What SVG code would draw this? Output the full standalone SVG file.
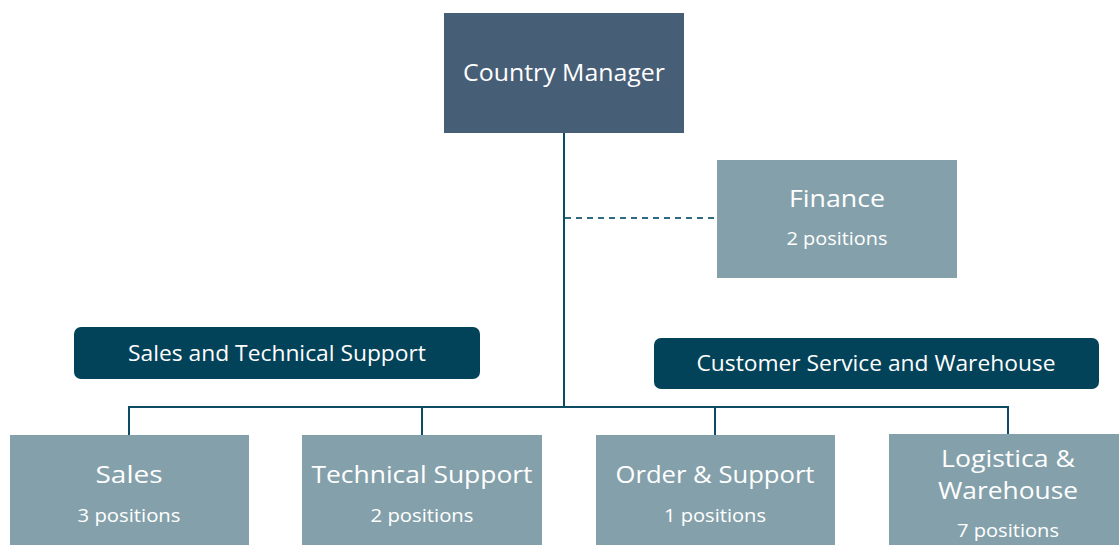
<svg xmlns="http://www.w3.org/2000/svg" width="1119" height="545" viewBox="0 0 1119 545">
<style>
text{font-family:"Open Sans","Liberation Sans",sans-serif;fill:#ffffff;text-anchor:middle}
.top{fill:#475e77}
.box{fill:#84a1ab}
.pill{fill:#02435a}
.t{font-size:24px}
.s{font-size:19px}
.p{font-size:21px}
.ln{stroke:#0d4a64;stroke-width:2;fill:none}
.dash{stroke:#2f6a84;stroke-width:2;stroke-dasharray:6 5;fill:none}
</style>
<rect width="1119" height="545" fill="#ffffff"/>
<g id="connectors">
<line class="ln" x1="564" y1="133" x2="564" y2="407"/>
<line class="dash" x1="565" y1="218" x2="717" y2="218"/>
<polyline class="ln" points="129,435 129,407 1008,407 1008,435"/>
<line class="ln" x1="422" y1="407" x2="422" y2="435"/>
<line class="ln" x1="715" y1="407" x2="715" y2="435"/>
</g>
<g id="country-manager">
<rect class="top" x="444" y="13" width="240" height="120"/>
<text class="t" x="564" y="81" textLength="202" lengthAdjust="spacingAndGlyphs">Country Manager</text>
</g>
<g id="finance">
<rect class="box" x="717" y="160" width="240" height="118"/>
<text class="t" x="837" y="207" textLength="96" lengthAdjust="spacingAndGlyphs">Finance</text>
<text class="s" x="837" y="245" textLength="101" lengthAdjust="spacingAndGlyphs">2 positions</text>
</g>
<g id="sales-tech-group">
<rect class="pill" x="74" y="327" width="406" height="52" rx="7"/>
<text class="p" x="277" y="361" textLength="298" lengthAdjust="spacingAndGlyphs">Sales and Technical Support</text>
</g>
<g id="cs-warehouse-group">
<rect class="pill" x="654" y="338" width="445" height="51" rx="7"/>
<text class="p" x="876" y="371" textLength="359" lengthAdjust="spacingAndGlyphs">Customer Service and Warehouse</text>
</g>
<g id="sales">
<rect class="box" x="10" y="435" width="239" height="115"/>
<text class="t" x="129" y="483" textLength="67" lengthAdjust="spacingAndGlyphs">Sales</text>
<text class="s" x="129" y="522" textLength="103" lengthAdjust="spacingAndGlyphs">3 positions</text>
</g>
<g id="technical-support">
<rect class="box" x="302" y="435" width="240" height="115"/>
<text class="t" x="422" y="483" textLength="221" lengthAdjust="spacingAndGlyphs">Technical Support</text>
<text class="s" x="422" y="522" textLength="103" lengthAdjust="spacingAndGlyphs">2 positions</text>
</g>
<g id="order-support">
<rect class="box" x="596" y="435" width="239" height="115"/>
<text class="t" x="715" y="483" textLength="199" lengthAdjust="spacingAndGlyphs">Order &amp; Support</text>
<text class="s" x="715" y="522" textLength="102" lengthAdjust="spacingAndGlyphs">1 positions</text>
</g>
<g id="logistica-warehouse">
<rect class="box" x="889" y="434" width="240" height="116"/>
<text class="t" x="1008" y="467" textLength="134" lengthAdjust="spacingAndGlyphs">Logistica &amp;</text>
<text class="t" x="1008" y="499" textLength="140" lengthAdjust="spacingAndGlyphs">Warehouse</text>
<text class="s" x="1008" y="537" textLength="102" lengthAdjust="spacingAndGlyphs">7 positions</text>
</g>
</svg>
